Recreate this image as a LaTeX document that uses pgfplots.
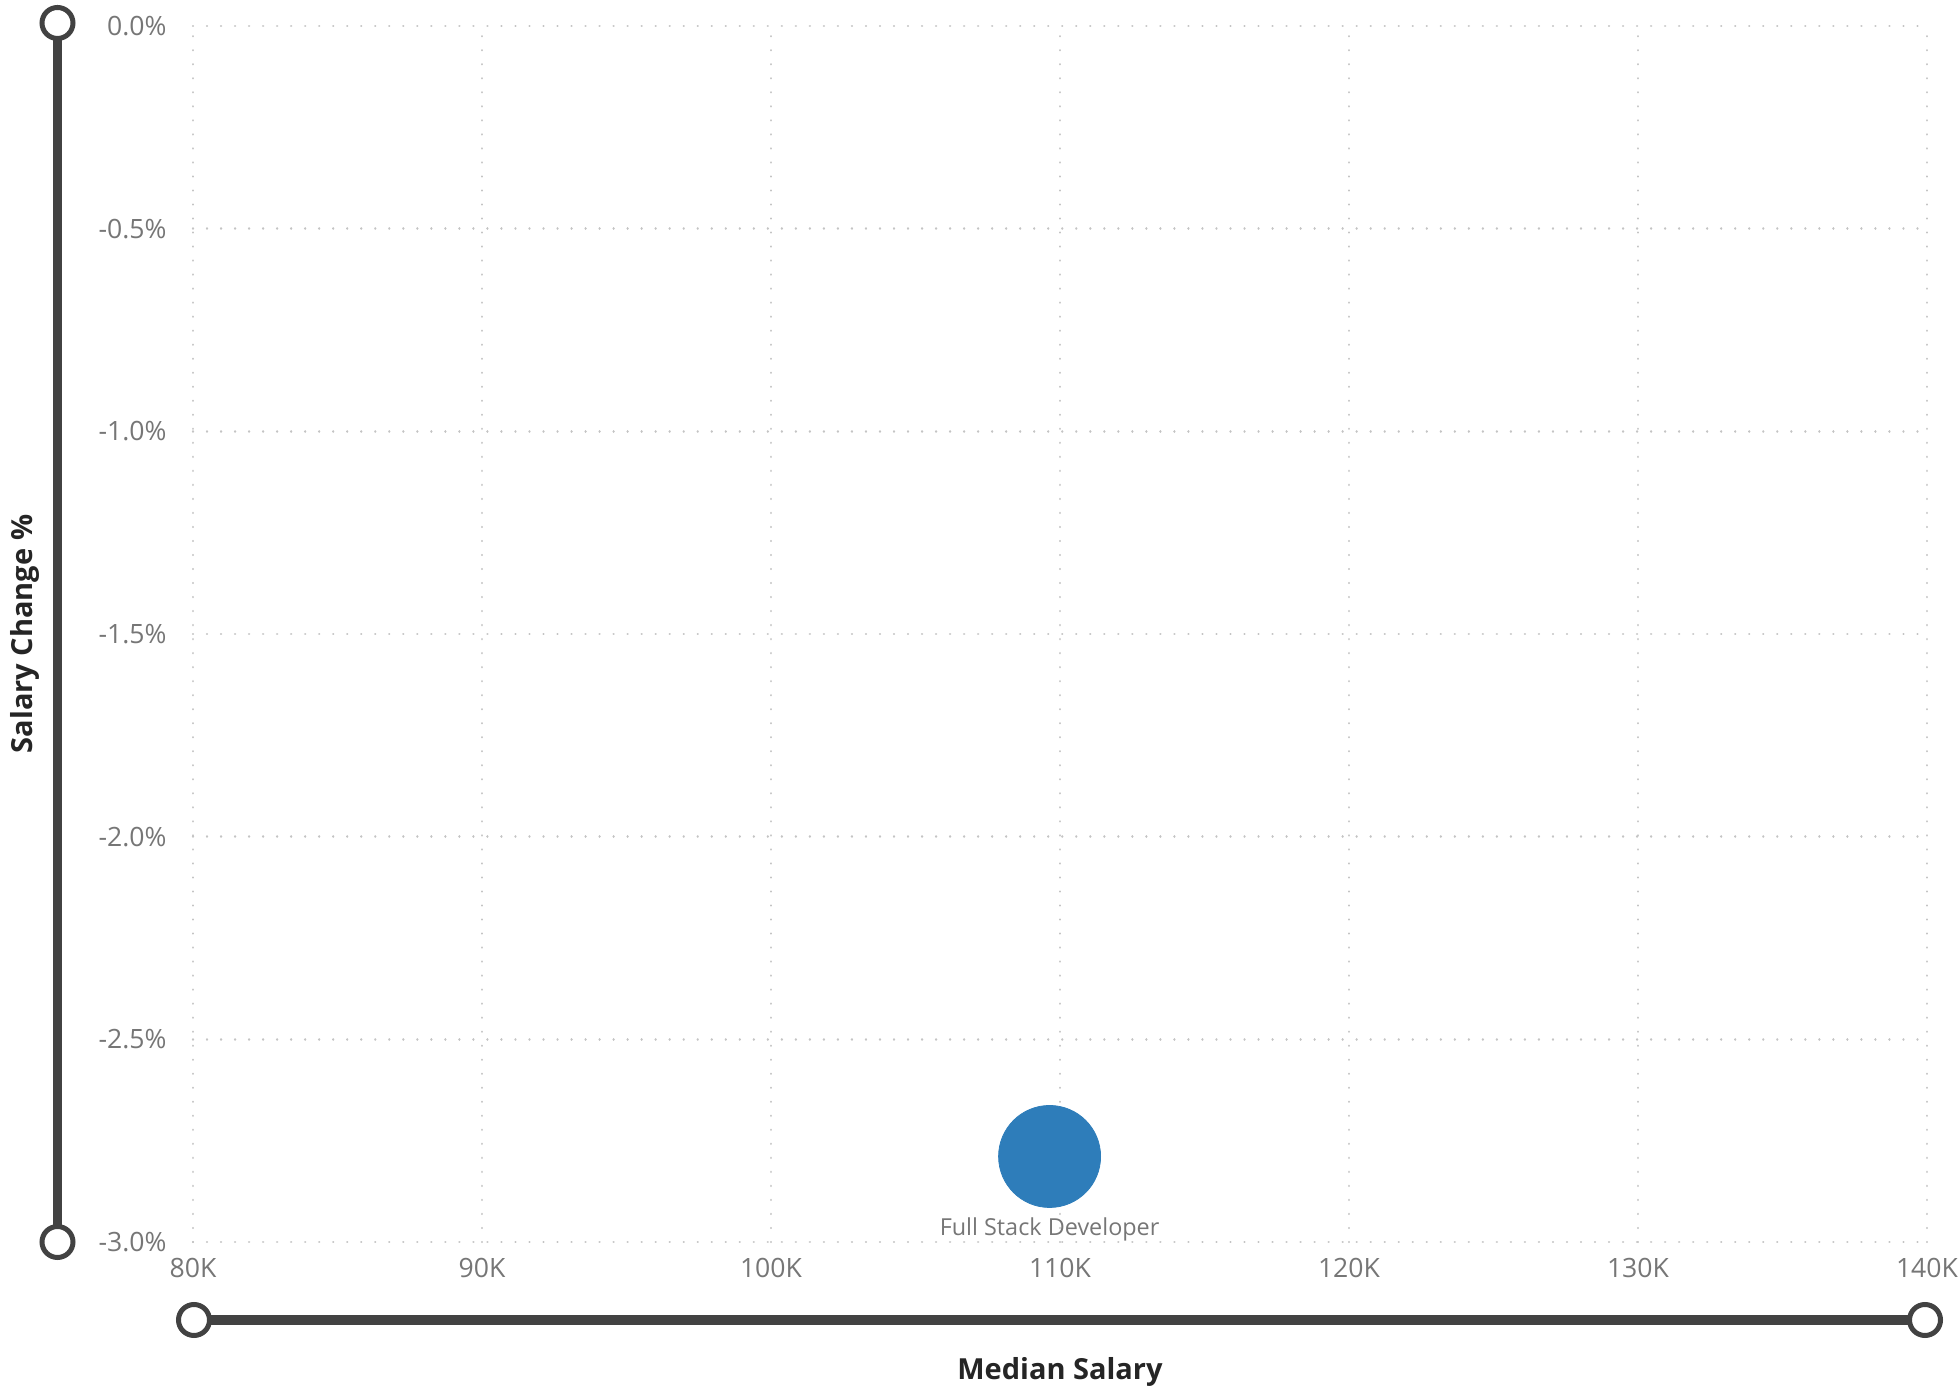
\documentclass[border=0pt]{standalone}
\usepackage{pgfplots}
\pgfplotsset{compat=1.18}
\usepackage{fontspec}
\setmainfont{Open Sans}
\definecolor{bubble}{RGB}{46,125,186}
\definecolor{slider}{RGB}{66,66,66}
\definecolor{ticktext}{RGB}{118,118,118}
\definecolor{gridc}{RGB}{196,196,196}
\definecolor{titletext}{RGB}{37,37,37}
\begin{document}
\begin{tikzpicture}
\path[use as bounding box] (-96.5pt,-74pt) rectangle (883pt,621pt);
\begin{axis}[
  scale only axis,
  width=867pt, height=608pt,
  xmin=80, xmax=140, ymin=-3, ymax=0,
  xtick={80,90,100,110,120,130,140},
  xticklabels={80K,90K,100K,110K,120K,130K,140K},
  ytick={-3,-2.5,-2,-1.5,-1,-0.5,0},
  yticklabels={-3.0\%,-2.5\%,-2.0\%,-1.5\%,-1.0\%,-0.5\%,0.0\%},
  axis line style={draw=none},
  tick style={draw=none},
  grid=major,
  major grid style={draw=gridc, line width=1.2pt, line cap=round, dash pattern=on 0.01pt off 7pt},
  xticklabel style={font=\fontsize{13.3pt}{16pt}\selectfont, text=ticktext, anchor=north, inner sep=0pt, yshift=-8pt},
  yticklabel style={font=\fontsize{13.3pt}{16pt}\selectfont, text=ticktext, anchor=east, inner sep=0pt, xshift=-13pt},
  every axis x label/.style={at={(axis description cs:0.5,-0.1127)}, anchor=base, font=\bfseries\fontsize{14.5pt}{17pt}\selectfont, text=titletext},
  every axis y label/.style={at={(axis description cs:-0.0923,0.5)}, rotate=90, anchor=base, font=\bfseries\fontsize{14.5pt}{17pt}\selectfont, text=titletext},
  xlabel={Median Salary},
  ylabel={Salary Change \%},
  clip=false,
]
\addplot[only marks, color=bubble, mark=*, mark size=25.5pt, mark options={draw=none, fill=bubble},
  point meta=explicit symbolic,
  nodes near coords=\pgfplotspointmeta,
  every node near coord/.style={anchor=base, yshift=-39.5pt, inner sep=0pt, font=\fontsize{11.7pt}{14pt}\selectfont, text=ticktext}]
  coordinates {(109.64,-2.789) [Full Stack Developer]};
\end{axis}
% slider decorations
\draw[slider, line width=4.5pt] (-67.75pt,0pt) -- (-67.75pt,609.5pt);
\draw[slider, line width=2.5pt, fill=white] (-67.75pt,609.5pt) circle (7.75pt);
\draw[slider, line width=2.5pt, fill=white] (-67.75pt,0pt) circle (7.75pt);
\draw[slider, line width=5pt] (0pt,-39pt) -- (866pt,-39pt);
\draw[slider, line width=2.5pt, fill=white] (0.5pt,-39pt) circle (7.75pt);
\draw[slider, line width=2.5pt, fill=white] (866pt,-39pt) circle (7.75pt);
\end{tikzpicture}
\end{document}
